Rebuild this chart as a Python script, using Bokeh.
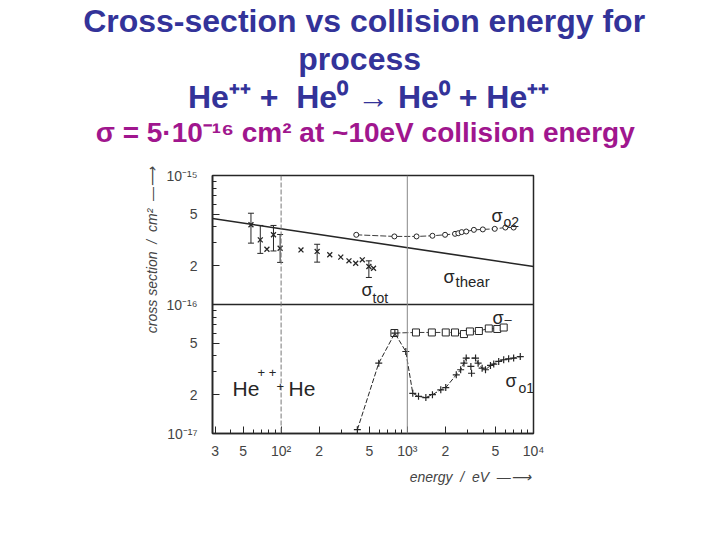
import numpy as np
from bokeh.plotting import figure
from bokeh.models import (Range1d, FixedTicker, Label, Span, Whisker, ColumnDataSource,
                          TeeHead, Title)
from bokeh.embed import file_html
from bokeh.resources import INLINE

# ---------------- data ----------------
theor_E = [28.6, 10000]
theor_sigma = [4.64e-16, 1.97e-16]

tot_E = [57.7, 68.4, 77.2, 87.0, 98.2, 143.7, 193, 243, 297, 345, 390, 440, 496, 540]
tot_sigma = [4.15e-16, 3.17e-16, 2.68e-16, 3.47e-16, 2.73e-16, 2.65e-16, 2.58e-16,
             2.43e-16, 2.33e-16, 2.18e-16, 2.09e-16, 2.22e-16, 1.97e-16, 1.91e-16]
err_E = [57.7, 68.4, 87.0, 98.2, 193, 496]
err_upper = [5.1e-16, 4.1e-16, 4.1e-16, 3.49e-16, 2.93e-16, 2.18e-16]
err_lower = [2.99e-16, 2.49e-16, 2.6e-16, 2.12e-16, 2.13e-16, 1.62e-16]

o2_E = [394, 790, 1184, 1582, 1992, 2388, 2535, 2696, 2930, 3370, 3966, 4930, 5985, 6960]
o2_sigma = [3.47e-16, 3.37e-16, 3.37e-16, 3.41e-16, 3.47e-16, 3.53e-16, 3.57e-16,
            3.64e-16, 3.68e-16, 3.79e-16, 3.82e-16, 3.86e-16, 3.95e-16, 3.95e-16]

minus_E = [790, 1171, 1565, 2017, 2388, 2811, 3133, 3690, 4424, 5160, 5805]
minus_sigma = [6.01e-17, 6.07e-17, 6.07e-17, 6.07e-17, 6.07e-17, 5.90e-17,
               6.18e-17, 6.23e-17, 6.52e-17, 6.46e-17, 6.63e-17]

o1_E = [402, 594, 797, 973, 1105, 1227, 1403, 1582, 1842, 2017, 2444, 2647, 2811,
        2930, 3474, 3641, 3917, 4165, 4561, 4842, 5300, 5805, 6355, 6960, 7856]
o1_sigma = [1.07e-17, 3.51e-17, 5.99e-17, 4.32e-17, 2.05e-17, 1.94e-17, 1.90e-17,
            2.0e-17, 2.18e-17, 2.27e-17, 2.85e-17, 3.12e-17, 3.51e-17, 3.84e-17,
            3.84e-17, 3.51e-17, 3.21e-17, 3.12e-17, 3.37e-17, 3.45e-17, 3.62e-17,
            3.73e-17, 3.79e-17, 3.84e-17, 3.95e-17]
o1_extra_E = [3190, 3230]
o1_extra_sigma = [3.31e-17, 2.93e-17]

x_ticks = [30, 50, 100, 200, 500, 1000, 2000, 5000, 10000]
x_tick_labels = ["3", "5", "10²", "2", "5", "10³", "2", "5", "10⁴"]
x_minor = [40, 60, 70, 80, 90, 300, 400, 600, 700, 800, 900,
           3000, 4000, 6000, 7000, 8000, 9000]
y_ticks = [1e-17, 2e-17, 5e-17, 1e-16, 2e-16, 5e-16, 1e-15]
y_tick_labels = ["10⁻¹⁷", "2", "5", "10⁻¹⁶", "2", "5", "10⁻¹⁵"]
y_minor = [3e-17, 4e-17, 6e-17, 7e-17, 8e-17, 9e-17,
           3e-16, 4e-16, 6e-16, 7e-16, 8e-16, 9e-16]

NB = "\u00a0"
title_lines = ["Cross-section vs collision energy for",
               "process",
               "He⁺⁺ +" + NB * 2 + "He⁰ → He⁰ + He⁺⁺",
               "σ = 5·10⁻¹⁶ cm² at ~10eV collision energy"]
x_title = "energy" + NB * 2 + "/" + NB * 2 + "eV" + NB * 2 + "—⟶"
y_title = "cross" + NB + "section" + NB * 2 + "/" + NB * 2 + "cm²" + NB * 2 + "—⟶"

# ---------------- layout helpers ----------------
W, H = 700, 520
XL, XR = 28.6, 1e4
YB, YT = 1e-17, 1e-15
FL, FR, FT, FB = 212, 533, 175, 433   # frame edges in page pixels


def dx(px):
    return 10 ** (np.log10(XL) + (px - FL) / (FR - FL) * (np.log10(XR) - np.log10(XL)))


def dy(py):
    return 10 ** (np.log10(YB) + (FB - py) / (FB - FT) * (np.log10(YT) - np.log10(YB)))


NAVY = "#333399"
MAGENTA = "#a0168e"
INK = "#262626"
GREY = "#444444"
FONT = "Liberation Sans"

p = figure(width=W, height=H, x_axis_type="log", y_axis_type="log",
           x_range=Range1d(XL, XR), y_range=Range1d(YB, YT),
           output_backend="svg", toolbar_location=None,
           min_border_left=FL, min_border_right=W - FR,
           min_border_top=0, min_border_bottom=H - FB)
p.xgrid.visible = False
p.ygrid.visible = False
p.outline_line_color = INK
p.outline_line_width = 1.5
p.background_fill_color = "white"
p.border_fill_color = "white"

# titles: the last one added sits outermost; p.title is the topmost line.
# trailing no-break spaces nudge the centred lines slightly to the left
p.add_layout(Title(text=NB, text_font_size="23px", standoff=0), "above")  # spacer
for txt, size, color, pad in ((title_lines[3], 28, MAGENTA, 2),
                              (title_lines[2], 32, NAVY, 1),
                              (title_lines[1], 32, NAVY, 3)):
    p.add_layout(Title(text=txt + NB * pad, align="center", text_font=FONT,
                       text_font_size=f"{size}px", text_font_style="bold",
                       text_color=color, standoff=0), "above")
p.title.text = title_lines[0] + NB * 2
p.title.align = "center"
p.title.text_font = FONT
p.title.text_font_size = "32px"
p.title.text_font_style = "bold"
p.title.text_color = NAVY
p.title.standoff = 0

for ax, ticks, minor, labels in ((p.xaxis, x_ticks, x_minor, x_tick_labels),
                                 (p.yaxis, y_ticks, y_minor, y_tick_labels)):
    ax.ticker = FixedTicker(ticks=ticks, minor_ticks=minor)
    ax.major_label_overrides = {t: l for t, l in zip(ticks, labels)}
    ax.axis_line_color = INK
    ax.axis_line_width = 1.6
    ax.major_tick_in = 7
    ax.major_tick_out = 0
    ax.minor_tick_in = 4
    ax.minor_tick_out = 0
    ax.major_tick_line_color = INK
    ax.minor_tick_line_color = INK
    ax.major_label_text_font = FONT
    ax.major_label_text_font_size = "14px"
    ax.major_label_text_color = GREY
    ax.axis_label_text_font = FONT
    ax.axis_label_text_font_style = "italic"
    ax.axis_label_text_color = GREY
    ax.axis_label_text_font_size = "14px"
p.xaxis.major_label_standoff = 9
p.yaxis.major_label_standoff = 15
p.xaxis.axis_label = NB * 50 + x_title
p.yaxis.axis_label = NB * 28 + y_title
p.xaxis.axis_label_standoff = 7
p.yaxis.axis_label_standoff = 3

# reference lines of the scanned figure
p.add_layout(Span(location=1e-16, dimension="width", line_color=INK, line_width=1.4))
p.add_layout(Span(location=100, dimension="height", line_color="#777777",
                  line_width=1, line_dash="5 2"))
p.add_layout(Span(location=1000, dimension="height", line_color="#888888", line_width=1))

# sigma_theor
p.line(theor_E, theor_sigma, line_color=INK, line_width=1.6)

# sigma_tot with error bars
err_src = ColumnDataSource(dict(x=err_E, upper=err_upper, lower=err_lower))
p.add_layout(Whisker(source=err_src, base="x", upper="upper", lower="lower",
                     dimension="height", line_color=INK, line_width=1,
                     upper_head=TeeHead(size=6, line_color=INK, line_width=1),
                     lower_head=TeeHead(size=6, line_color=INK, line_width=1)))
p.scatter(tot_E, tot_sigma, marker="x", size=7, line_color=INK, line_width=1.3)

# sigma_o2
p.line(o2_E, o2_sigma, line_color=INK, line_width=0.9, line_dash="6 2")
p.scatter(o2_E, o2_sigma, marker="circle", size=5, fill_color="white",
          line_color=INK, line_width=1)

# sigma_-
p.line(minus_E, minus_sigma, line_color=INK, line_width=0.9, line_dash="6 2")
p.scatter(minus_E, minus_sigma, marker="square", size=7, fill_color="white",
          line_color=INK, line_width=1)

# sigma_o1
p.line(o1_E, o1_sigma, line_color=INK, line_width=1, line_dash="5 2")
p.scatter(o1_E, o1_sigma, marker="cross", size=7, line_color=INK, line_width=1.2)
p.scatter(o1_extra_E, o1_extra_sigma, marker="cross", size=7, line_color=INK, line_width=1.2)


def label(text, px, py, size, color=INK, style="normal"):
    p.add_layout(Label(x=dx(px), y=dy(py), text=text, text_font=FONT,
                       text_font_size=f"{size}px", text_font_style=style,
                       text_color=color, text_align="left", text_baseline="alphabetic"))


# curve names
label("σ", 491, 215, 18)
label("o2", 503, 221, 14)
label("σ", 443, 276, 18)
label("thear", 455, 281, 15)
label("σ", 361, 289, 18)
label("tot", 372, 297, 14)
label("σ", 492, 317, 18)
label("–", 504, 319, 13)
label("σ", 505, 380, 18)
label("o1", 518, 387, 14)
label("He", 232, 388, 21)
label("+ +", 257, 372, 13)
label("+", 276, 386, 13)
label("He", 288, 388, 21)

open("out.html", "w").write(file_html(p, INLINE))
